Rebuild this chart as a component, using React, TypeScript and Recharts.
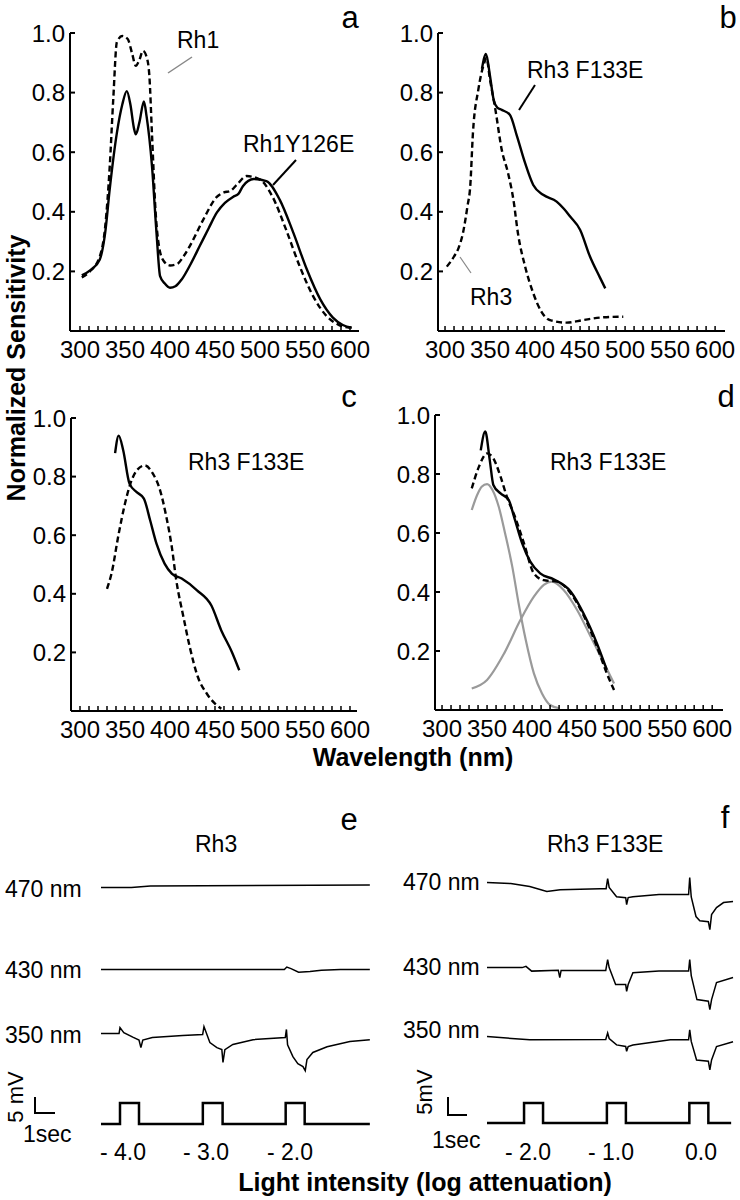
import React from 'react'
import { LineChart, Line, XAxis, YAxis } from 'recharts'

const FONT = '"Liberation Sans", Arial, Helvetica, sans-serif'

// panel a: Rh1 (dashed) vs Rh1Y126E (solid)
const aRh1Wl = [302, 311, 322, 328, 333, 337, 341, 347, 353, 358, 362, 366, 370, 374, 377, 380, 384, 388, 393, 400, 408, 415, 422, 437, 452, 460, 467, 474, 485, 500, 514, 529, 544, 559, 574, 588, 600]
const aRh1Val = [0.18, 0.2, 0.25, 0.35, 0.55, 0.78, 0.97, 0.99, 0.98, 0.93, 0.89, 0.91, 0.94, 0.92, 0.86, 0.66, 0.4, 0.28, 0.235, 0.22, 0.225, 0.25, 0.285, 0.374, 0.45, 0.465, 0.47, 0.49, 0.52, 0.508, 0.45, 0.34, 0.218, 0.117, 0.05, 0.02, 0.011]
const aMutWl = [302, 312, 322, 328, 333, 341, 347, 352, 356, 360, 362, 366, 371, 374, 380, 385, 389, 394, 400, 406, 413, 423, 433, 443, 452, 461, 470, 476, 481, 493, 507, 522, 537, 552, 567, 581, 592, 602]
const aMutVal = [0.187, 0.205, 0.24, 0.33, 0.475, 0.665, 0.76, 0.805, 0.76, 0.68, 0.66, 0.7, 0.77, 0.72, 0.553, 0.33, 0.184, 0.16, 0.145, 0.15, 0.173, 0.225, 0.285, 0.345, 0.397, 0.43, 0.45, 0.46, 0.486, 0.51, 0.503, 0.44, 0.33, 0.207, 0.106, 0.045, 0.02, 0.011]

// panel b: Rh3 (dashed) vs Rh3 F133E (solid)
const bRh3Wl = [302, 310, 315, 320, 325, 328, 331, 337, 343, 346, 350, 356, 363, 370, 376, 381, 389, 398, 407, 414, 420, 435, 454, 476, 498]
const bRh3Val = [0.216, 0.25, 0.278, 0.33, 0.42, 0.485, 0.664, 0.81, 0.894, 0.916, 0.843, 0.742, 0.608, 0.53, 0.44, 0.328, 0.216, 0.127, 0.065, 0.04, 0.034, 0.028, 0.037, 0.046, 0.048]
const bMutWl = [341, 345.5, 350, 354, 358, 363, 372, 380, 389, 398, 409, 424, 432, 439, 450, 461, 472, 478]
const bMutVal = [0.88, 0.93, 0.855, 0.776, 0.75, 0.742, 0.726, 0.653, 0.563, 0.49, 0.457, 0.434, 0.41, 0.384, 0.34, 0.25, 0.18, 0.143]

// panel c: Rh3 F133E (solid) and dashed
const cMutWl = [339, 343, 348, 355, 363, 371, 378, 385, 394, 402, 413, 430, 446, 457, 469, 477]
const cMutVal = [0.88, 0.94, 0.89, 0.776, 0.747, 0.725, 0.65, 0.571, 0.503, 0.469, 0.452, 0.412, 0.36, 0.275, 0.2, 0.139]
const cDashWl = [330, 335, 343, 350, 356, 363, 372, 381, 389, 396, 402, 407, 415, 422, 431, 441, 450, 457]
const cDashVal = [0.417, 0.469, 0.605, 0.708, 0.776, 0.821, 0.838, 0.81, 0.753, 0.662, 0.56, 0.446, 0.32, 0.218, 0.116, 0.059, 0.025, 0.008]

// panel d: Rh3 F133E (solid), sum (dashed), two components (grey)
const dMutWl = [343, 348, 353, 357, 365, 374, 380, 389, 398, 409, 424, 443, 457, 472, 483]
const dMutVal = [0.88, 0.944, 0.847, 0.763, 0.734, 0.712, 0.655, 0.565, 0.503, 0.463, 0.443, 0.401, 0.328, 0.226, 0.136]
const dSumWl = [333, 341, 350, 357, 365, 372, 381, 391, 402, 413, 428, 443, 457, 472, 483, 491]
const dSumVal = [0.751, 0.825, 0.87, 0.853, 0.791, 0.723, 0.655, 0.565, 0.463, 0.44, 0.435, 0.395, 0.322, 0.215, 0.124, 0.068]
const dUvWl = [333, 339, 344, 350, 356, 363, 370, 378, 385, 393, 402, 411, 420, 430]
const dUvVal = [0.678, 0.729, 0.757, 0.766, 0.746, 0.689, 0.599, 0.486, 0.362, 0.237, 0.124, 0.056, 0.017, 0.006]
const dBlueWl = [333, 350, 369, 387, 402, 413, 422, 435, 450, 465, 480, 491]
const dBlueVal = [0.073, 0.102, 0.192, 0.305, 0.384, 0.424, 0.435, 0.407, 0.339, 0.249, 0.158, 0.09]

const sensTicks = [0.2, 0.4, 0.6, 0.8, 1.0]
const wlLabels = [300, 350, 400, 450, 500, 550, 600]
const wlMinor = Array.from({ length: 31 }, (_, i) => 300 + i * 10)

// panel e: Rh3 recordings (time s, mV relative to baseline)
const eT470 = [-0.1, 1.5, 2.5, 14.05]
const eV470 = [0, 0, 0.5, 0.8]
const eT430 = [-0.1, 9.55, 9.68, 9.9, 10.3, 10.9, 11.5, 12.5, 14.05]
const eV430 = [0, 0, 0.8, 0.3, -0.8, -0.6, -0.2, 0, 0]
const eT350 = [-0.1, 0.85, 0.9, 1.1, 1.6, 1.9, 2.0, 2.1, 2.6, 4.2, 5.25, 5.32, 5.63, 6.0, 6.26, 6.32, 6.42, 6.84, 7.9, 9.6, 9.66, 9.72, 10.0, 10.26, 10.53, 10.65, 10.74, 11.05, 11.8, 13.0, 14.05]
const eV350 = [0, 0, 1.9, 0.3, -1.2, -2.0, -4.4, -2.0, -1.2, -0.6, -0.3, 2.2, -2.8, -4.4, -5.0, -9.0, -5.0, -3.4, -1.9, -1.2, 1.3, -3.5, -7.2, -9.4, -10.3, -11.6, -8.1, -5.9, -4.1, -2.5, -1.9]
const eStimT = [-0.1, 0.9, 1.9, 5.26, 6.3, 9.62, 10.62, 14.05]
const eStimOn = [0, 1, 0, 1, 0, 1, 0, 0]

// panel f: Rh3 F133E recordings
const fT470 = [-0.05, 1.2, 2.2, 3.1, 3.8, 5.9, 6.22, 6.3, 6.38, 6.77, 7.25, 7.3, 7.38, 7.63, 9.0, 10.56, 10.62, 10.7, 10.95, 11.15, 11.6, 11.68, 11.77, 12.03, 12.4, 12.9]
const fV470 = [0, -0.3, -1.25, -2.8, -2.2, -1.9, -1.9, 1.25, -1.5, -4.4, -4.7, -6.9, -4.7, -4.4, -3.75, -3.75, 1.6, -4.5, -10.6, -11.9, -12.2, -14.7, -10.0, -7.8, -6.25, -5.9]
const fT430 = [-0.05, 1.8, 2.0, 2.3, 3.7, 3.78, 3.85, 6.2, 6.3, 6.38, 6.72, 7.25, 7.3, 7.38, 7.63, 9.0, 10.56, 10.62, 10.7, 11.0, 11.6, 11.68, 11.77, 12.03, 12.9]
const fV430 = [0, 0, 0.4, -1.1, -0.8, -3.1, -0.9, -0.9, 2.5, 0, -5.3, -5.3, -7.4, -5.3, -1.6, -1.1, -1.1, 2.5, -2.5, -10, -10.5, -13.1, -10, -4.7, -3.1]
const fT350 = [-0.05, 2.2, 6.2, 6.3, 6.38, 6.77, 7.25, 7.3, 7.38, 7.63, 9.6, 10.56, 10.62, 10.7, 10.98, 11.6, 11.68, 11.77, 12.03, 12.9]
const fV350 = [0, -1.0, -0.9, 1.1, -0.6, -2.6, -3.1, -4.6, -3.1, -2.6, -1.0, -1.0, 2.1, -1.5, -7.3, -7.7, -10.4, -7.3, -3.1, -1.6]
const fStimT = [-0.05, 1.9, 2.9, 6.26, 7.26, 10.6, 11.6, 12.8]
const fStimOn = [0, 1, 0, 1, 0, 1, 0, 0]

const eAtten = ['- 4.0', '- 3.0', '- 2.0']
const fAtten = ['- 2.0', '- 1.0', '0.0']

type Pt = { x: number; y: number }
const zip = (xs: number[], ys: number[]): Pt[] => xs.map((x, i) => ({ x, y: ys[i] }))

type Series = { pts: Pt[]; color: string; dash?: string; width?: number }

const BLACK = '#000'
const GREY = '#9a9a9a'
const DASH = '6 3.5'

function WlTick(props: any) {
  const { x, y, payload } = props
  const v = payload.value
  return (
    <g>
      <line x1={x} y1={y} x2={x} y2={y - 5} stroke={BLACK} strokeWidth={1.5} />
      {wlLabels.includes(v) && (
        <text x={x} y={y + 27} textAnchor="middle" fontSize={24} fontFamily={FONT} fill={BLACK}>
          {v}
        </text>
      )}
    </g>
  )
}

function SensTick(props: any) {
  const { x, y, payload } = props
  return (
    <g>
      <line x1={x} y1={y} x2={x + 5} y2={y} stroke={BLACK} strokeWidth={2} />
      <text x={x - 5} y={y + 8.5} textAnchor="end" fontSize={24} fontFamily={FONT} fill={BLACK}>
        {Number(payload.value).toFixed(1)}
      </text>
    </g>
  )
}

function SpectrumPanel({ left, top, w, h, xDomain, series }: {
  left: number; top: number; w: number; h: number; xDomain: [number, number]; series: Series[]
}) {
  return (
    <div style={{ position: 'absolute', left: left - 70, top: top - 35 }}>
      <LineChart width={w + 85} height={h + 75} margin={{ top: 35, right: 15, bottom: 10, left: 10 }}>
        <XAxis
          type="number" dataKey="x" domain={xDomain} allowDataOverflow ticks={wlMinor} interval={0}
          tick={<WlTick />} tickLine={false} tickSize={0} tickMargin={0} height={30}
          axisLine={{ stroke: BLACK, strokeWidth: 2 }}
        />
        <YAxis
          type="number" domain={[0, 1]} ticks={sensTicks} interval={0}
          tick={<SensTick />} tickLine={false} tickSize={0} tickMargin={0} width={60}
          axisLine={{ stroke: BLACK, strokeWidth: 2 }}
        />
        {series.map((s, i) => (
          <Line
            key={i} data={s.pts} dataKey="y" type="monotone" stroke={s.color}
            strokeWidth={s.width ?? 2.4} strokeDasharray={s.dash} strokeLinejoin="round"
            dot={false} activeDot={false} isAnimationActive={false}
          />
        ))}
      </LineChart>
    </div>
  )
}

function TraceRow({ left, top, w, h, tDomain, vDomain, t, v, width, step }: {
  left: number; top: number; w: number; h: number; tDomain: [number, number]; vDomain: [number, number]
  t: number[]; v: number[]; width: number; step?: boolean
}) {
  const pad = 4
  return (
    <div style={{ position: 'absolute', left: left - pad, top: top - pad }}>
      <LineChart width={w + 2 * pad} height={h + 2 * pad} margin={{ top: pad, right: pad, bottom: pad, left: pad }}>
        <XAxis type="number" dataKey="x" domain={tDomain} hide />
        <YAxis type="number" domain={vDomain} hide />
        <Line
          data={zip(t, v)} dataKey="y" type={step ? 'stepAfter' : 'linear'} stroke={BLACK}
          strokeWidth={width} dot={false} activeDot={false} isAnimationActive={false}
        />
      </LineChart>
    </div>
  )
}

// 5 mV = 16 px, 1 s = 19 px
const MV_DOMAIN: [number, number] = [-20, 8]
const MV_H = 28 * 3.2
const MV_UP = 8 * 3.2

export default function App() {
  const eDom: [number, number] = [-0.1, 14.05]
  const fDom: [number, number] = [-0.05, 12.9]
  const eW = (eDom[1] - eDom[0]) * 19
  const fW = (fDom[1] - fDom[0]) * 19
  const txt = { fontFamily: FONT, fill: BLACK } as const

  return (
    <div style={{ position: 'absolute', left: 0, top: 0, width: 740, height: 1200, background: '#fff' }}>
      <SpectrumPanel left={70} top={33} w={289} h={298} xDomain={[288.9, 610]} series={[
        { pts: zip(aRh1Wl, aRh1Val), color: BLACK, dash: DASH },
        { pts: zip(aMutWl, aMutVal), color: BLACK },
      ]} />
      <SpectrumPanel left={438} top={33} w={287} h={298} xDomain={[292.2, 611]} series={[
        { pts: zip(bRh3Wl, bRh3Val), color: BLACK, dash: DASH },
        { pts: zip(bMutWl, bMutVal), color: BLACK },
      ]} />
      <SpectrumPanel left={71} top={418} w={286} h={293} xDomain={[290, 607.8]} series={[
        { pts: zip(cDashWl, cDashVal), color: BLACK, dash: DASH },
        { pts: zip(cMutWl, cMutVal), color: BLACK },
      ]} />
      <SpectrumPanel left={435} top={415} w={288} h={295} xDomain={[292.2, 612]} series={[
        { pts: zip(dUvWl, dUvVal), color: GREY, width: 2.2 },
        { pts: zip(dBlueWl, dBlueVal), color: GREY, width: 2.2 },
        { pts: zip(dSumWl, dSumVal), color: BLACK, dash: DASH },
        { pts: zip(dMutWl, dMutVal), color: BLACK },
      ]} />

      <TraceRow left={101} top={888 - MV_UP} w={eW} h={MV_H} tDomain={eDom} vDomain={MV_DOMAIN} t={eT470} v={eV470} width={1.5} />
      <TraceRow left={101} top={970 - MV_UP} w={eW} h={MV_H} tDomain={eDom} vDomain={MV_DOMAIN} t={eT430} v={eV430} width={1.5} />
      <TraceRow left={101} top={1034 - MV_UP} w={eW} h={MV_H} tDomain={eDom} vDomain={MV_DOMAIN} t={eT350} v={eV350} width={1.5} />
      <TraceRow left={101} top={1103} w={eW} h={21} tDomain={eDom} vDomain={[0, 1]} t={eStimT} v={eStimOn} width={2.5} step />

      <TraceRow left={487} top={883 - MV_UP} w={fW} h={MV_H} tDomain={fDom} vDomain={MV_DOMAIN} t={fT470} v={fV470} width={1.5} />
      <TraceRow left={487} top={968 - MV_UP} w={fW} h={MV_H} tDomain={fDom} vDomain={MV_DOMAIN} t={fT430} v={fV430} width={1.5} />
      <TraceRow left={487} top={1037 - MV_UP} w={fW} h={MV_H} tDomain={fDom} vDomain={MV_DOMAIN} t={fT350} v={fV350} width={1.5} />
      <TraceRow left={487} top={1103} w={fW} h={20} tDomain={fDom} vDomain={[0, 1]} t={fStimT} v={fStimOn} width={2.5} step />

      <svg width={740} height={1200} style={{ position: 'absolute', left: 0, top: 0, pointerEvents: 'none' }}>
        {/* panel letters */}
        <g fontSize={31} {...txt} textAnchor="middle">
          <text x={350} y={28}>a</text>
          <text x={728} y={28}>b</text>
          <text x={349} y={407}>c</text>
          <text x={726} y={407}>d</text>
          <text x={349} y={830}>e</text>
          <text x={725} y={828}>f</text>
        </g>

        {/* annotations */}
        <g fontSize={23} {...txt}>
          <text x={177} y={48}>Rh1</text>
          <text x={243} y={152}>Rh1Y126E</text>
          <text x={527} y={78}>Rh3 F133E</text>
          <text x={470} y={305}>Rh3</text>
          <text x={188} y={470}>Rh3 F133E</text>
          <text x={550} y={470}>Rh3 F133E</text>
        </g>
        <line x1={192} y1={57} x2={168} y2={73} stroke="#888" strokeWidth={1.5} />
        <line x1={296} y1={160} x2={273} y2={185} stroke={BLACK} strokeWidth={2} />
        <line x1={535} y1={85} x2={519} y2={110} stroke={BLACK} strokeWidth={2} />
        <line x1={471} y1={273} x2={460} y2={257} stroke="#888" strokeWidth={1.2} />

        <text x={16} y={368} transform="rotate(-90 16 368)" textAnchor="middle" dominantBaseline="central"
          fontSize={25} fontWeight="bold" {...txt}>Normalized Sensitivity</text>
        <text x={413} y={766} textAnchor="middle" fontSize={25} fontWeight="bold" {...txt}>Wavelength (nm)</text>

        {/* e labels */}
        <g fontSize={23} {...txt}>
          <text x={195} y={852}>Rh3</text>
          <text x={5} y={897}>470 nm</text>
          <text x={5} y={978}>430 nm</text>
          <text x={5} y={1043}>350 nm</text>
          <text x={23} y={1142}>1sec</text>
          {eAtten.map((s, i) => (
            <text key={s} x={[100, 183, 267][i]} y={1160}>{s}</text>
          ))}
        </g>
        <text x={15} y={1097} transform="rotate(-90 15 1097)" textAnchor="middle" dominantBaseline="central"
          fontSize={22} {...txt}>5 mV</text>
        <path d="M35 1097 V1113 H55" fill="none" stroke={BLACK} strokeWidth={2} />

        {/* f labels */}
        <g fontSize={23} {...txt}>
          <text x={547} y={852}>Rh3 F133E</text>
          <text x={403} y={890}>470 nm</text>
          <text x={403} y={975}>430 nm</text>
          <text x={403} y={1038}>350 nm</text>
          <text x={432} y={1148}>1sec</text>
          {fAtten.map((s, i) => (
            <text key={s} x={[505, 588, 685][i]} y={1160}>{s}</text>
          ))}
        </g>
        <text x={424} y={1092} transform="rotate(-90 424 1092)" textAnchor="middle" dominantBaseline="central"
          fontSize={22} {...txt}>5mV</text>
        <path d="M448 1097 V1115 H467" fill="none" stroke={BLACK} strokeWidth={2} />

        <text x={425} y={1191} textAnchor="middle" fontSize={25} fontWeight="bold" {...txt}>
          Light intensity (log attenuation)
        </text>
      </svg>
    </div>
  )
}
